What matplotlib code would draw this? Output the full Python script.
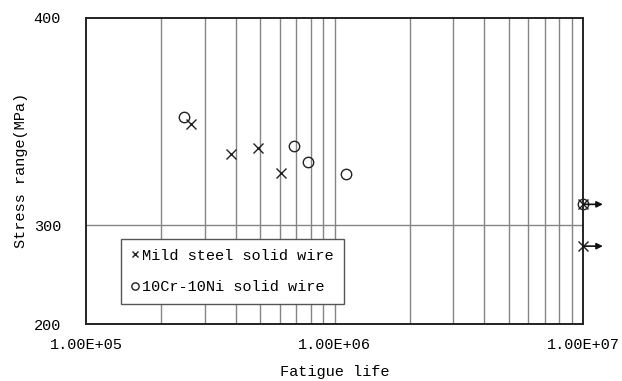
import numpy as np
import matplotlib
matplotlib.use("Agg")
import matplotlib.pyplot as plt
from matplotlib.ticker import FixedLocator, NullLocator, FixedFormatter

# Data
mild_life = [2.64e5, 3.83e5, 4.93e5, 6.08e5]
mild_stress = [358, 343, 346, 333]
cr_life = [2.48e5, 6.86e5, 7.79e5, 1.107e6]
cr_stress = [361, 347, 339, 332]
mild_runout_life = [1e7, 1e7]
mild_runout_stress = [314, 284]
cr_runout_life = [1e7]
cr_runout_stress = [314]
arrow_stress = [314, 284]
arrow_life = [1e7, 1e7]
xticks = [1e5, 1e6, 1e7]
xticklabels = ["1.00E+05", "1.00E+06", "1.00E+07"]
yticks = [200, 300, 400]
yticklabels = ["200", "300", "400"]
legend_labels = ["Mild steel solid wire", "10Cr-10Ni solid wire"]

FONT = ["Liberation Mono", "DejaVu Sans Mono"]
FS = 11
plt.rcParams['font.family'] = FONT
plt.rcParams['font.size'] = FS

U = 2.096
def fwd(y):
    return U ** (np.asarray(y, dtype=float) / 100.0)
def inv(v):
    v = np.asarray(v, dtype=float)
    with np.errstate(divide='ignore', invalid='ignore'):
        return 100.0 * np.log(np.clip(v, 1e-12, None)) / np.log(U)

fig = plt.figure(figsize=(6.22, 3.81), dpi=100)
ax = fig.add_axes([86/622, 1-324/381, (583.4-86)/622, (324-17.5)/381])
ax.set_xscale('log')
ax.set_yscale('function', functions=(fwd, inv))
ax.set_xlim(1e5, 1e7)
ax.set_ylim(200, 400)

# grid
minor = [m * 10**e for e in (5, 6) for m in range(2, 10)] + [1e6]
for gx in minor:
    ax.axvline(gx, color='#858585', lw=1.0, zorder=1)
ax.axhline(300, color='#858585', lw=1.0, zorder=1)

ax.xaxis.set_major_locator(FixedLocator(xticks))
ax.xaxis.set_major_formatter(FixedFormatter(xticklabels))
ax.xaxis.set_minor_locator(NullLocator())
ax.yaxis.set_major_locator(FixedLocator(yticks))
ax.yaxis.set_major_formatter(FixedFormatter(yticklabels))
ax.yaxis.set_minor_locator(NullLocator())
ax.tick_params(axis='x', length=0, pad=10, labelsize=FS)
ax.tick_params(axis='y', length=0, pad=18, labelsize=FS)

for s in ax.spines.values():
    s.set_linewidth(1.4)
    s.set_color('#222222')
    s.set_zorder(3)

ax.plot(mild_life, mild_stress, linestyle='none', marker='x', ms=7, mew=1.0,
        color='#222222', label=legend_labels[0], zorder=4)
ax.plot(cr_life, cr_stress, linestyle='none', marker='o', ms=7.5, mew=1.0,
        mfc='none', mec='#222222', label=legend_labels[1], zorder=4)
ax.plot(mild_runout_life, mild_runout_stress, linestyle='none', marker='x', ms=7, mew=1.0,
        color='#222222', zorder=5, clip_on=False)
ax.plot(cr_runout_life, cr_runout_stress, linestyle='none', marker='o', ms=7.5, mew=1.0,
        mfc='none', mec='#222222', zorder=5, clip_on=False)
for lx, ly in zip(arrow_life, arrow_stress):
    ax.annotate('', xy=(lx, ly), xycoords='data', xytext=(14, 0), textcoords='offset points',
                arrowprops=dict(arrowstyle='<|-', color='#111111', lw=1.2, shrinkA=0, shrinkB=0,
                                mutation_scale=9),
                annotation_clip=False, zorder=6)

leg = ax.legend(loc='lower left', bbox_to_anchor=(0.07, 0.065), frameon=True, fancybox=False,
                edgecolor='#555555', framealpha=1, handlelength=0.5, handletextpad=0.25,
                markerscale=0.7, borderpad=0.65, labelspacing=1.15, fontsize=FS,
                borderaxespad=0)
leg.get_frame().set_linewidth(1.0)
leg.set_zorder(7)

ax.set_xlabel('Fatigue life', fontsize=FS)
ax.set_ylabel('Stress range(MPa)', fontsize=FS)
ax.xaxis.set_label_coords(0.5, -0.134)
ax.yaxis.set_label_coords(-0.117, 0.5)

fig.savefig('out.png', dpi=100)
